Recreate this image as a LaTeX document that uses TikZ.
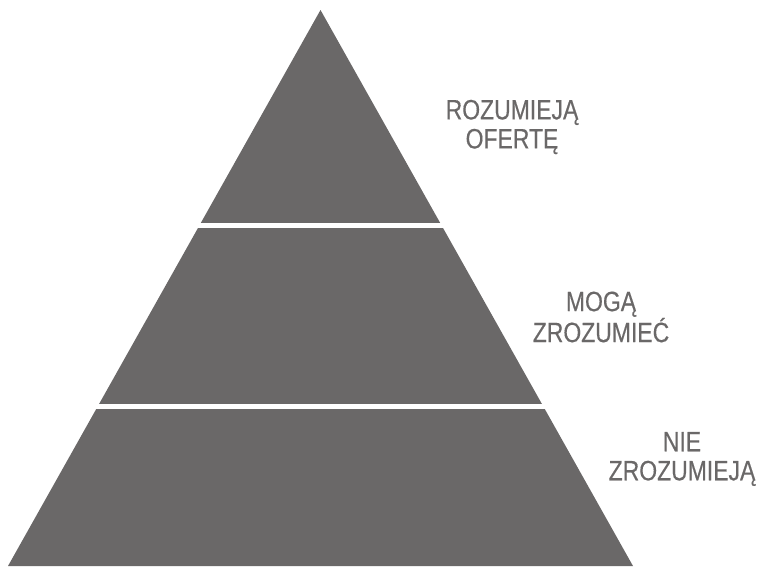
\documentclass[tikz,border=0pt]{standalone}
\usepackage{fontspec}
\setmainfont{Liberation Sans}[FakeStretch=0.82, FakeBold=0.4]
\usepackage{tikz}
\usetikzlibrary{calc}
\definecolor{pyrgray}{RGB}{106,104,104}
\tikzstyle{band} = [fill=pyrgray]
\tikzstyle{gap} = [draw=white, line width=4.5pt]
\tikzstyle{tierlabel} = [text=pyrgray, align=center,
    font=\fontsize{28}{29}\selectfont, inner sep=0pt]

\begin{document}
\begin{tikzpicture}[x=1pt,y=-1pt]
    \useasboundingbox (0,0) rectangle (759,566);

    % Draw pyramid
    \coordinate (apex) at (320.5,10);
    \coordinate (baseleft) at (8,566);
    \coordinate (baseright) at (633,566);
    \fill [band] (apex) -- (baseright) -- (baseleft) -- cycle;

    % Draw gaps between tiers
    \coordinate (gapAleft) at ($(apex)!0.3872!(baseleft)$);
    \coordinate (gapAright) at ($(apex)!0.3872!(baseright)$);
    \coordinate (gapBleft) at ($(apex)!0.7128!(baseleft)$);
    \coordinate (gapBright) at ($(apex)!0.7128!(baseright)$);
    \draw [gap, shorten <=-8pt, shorten >=-8pt] (gapAleft) -- (gapAright);
    \draw [gap, shorten <=-8pt, shorten >=-8pt] (gapBleft) -- (gapBright);

    % Tier labels
    \node [tierlabel] (toptier) at (512,127) {ROZUMIEJĄ\\OFERTĘ};
    \node [tierlabel] (midtier) at (601,317) {MOGĄ\\ZROZUMIEĆ};
    \node [tierlabel] (lowtier) at (682,459) {NIE\\ZROZUMIEJĄ};
\end{tikzpicture}
\end{document}
